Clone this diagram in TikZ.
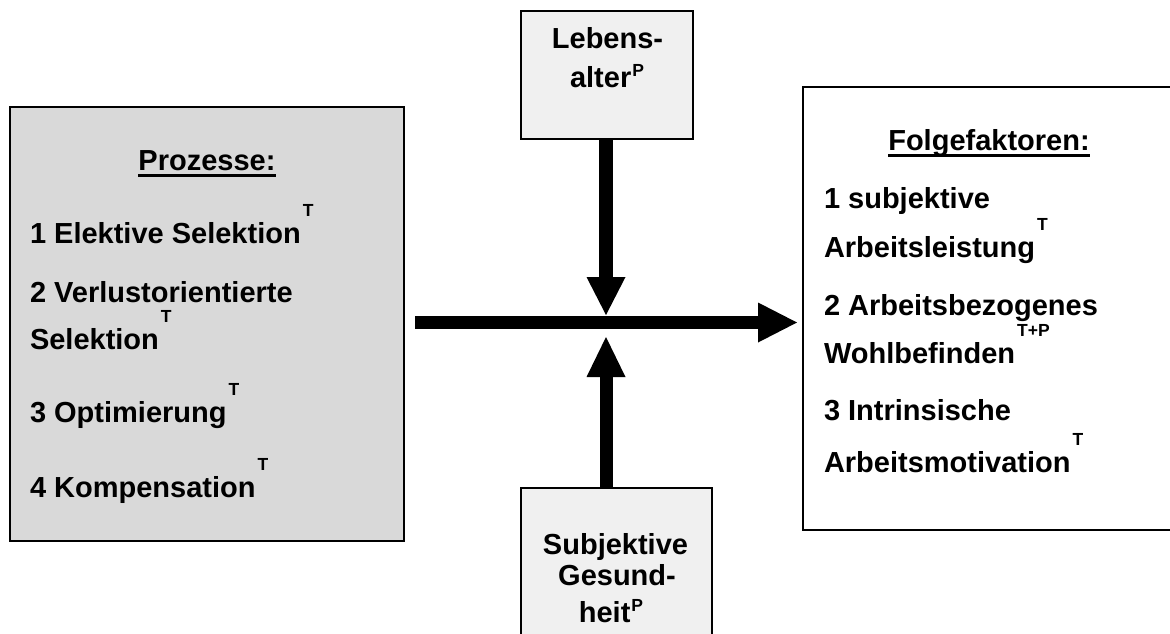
\documentclass[tikz,border=0pt]{standalone}
\usepackage{fontspec}
\setmainfont{Liberation Sans}
\usetikzlibrary{arrows.meta}
\definecolor{procgray}{HTML}{D9D9D9}
\definecolor{factgray}{HTML}{F0F0F0}
% raised index letters (T, P, T+P) after a term
\newcommand\supT[1]{\hspace{2pt}\raisebox{27pt}{\fontsize{17.5}{18}\selectfont #1}}
\newcommand\supP[1]{\hspace{1pt}\raisebox{11pt}{\fontsize{17.5}{18}\selectfont #1}}
% heading with a heavy underline
\newcommand\ulhead[1]{\setbox0\hbox{#1}\rlap{\rule[-6.5pt]{\wd0}{2.5pt}}\box0}
\begin{document}
\begin{tikzpicture}[x=1pt,y=-1pt,
  box/.style={draw=black, line width=1.6pt, anchor=north west, inner sep=0pt, outer sep=0pt},
  txt/.style={anchor=base west, inner sep=0pt, outer sep=0pt, font=\bfseries\fontsize{29}{34}\selectfont},
  ctxt/.style={anchor=base, inner sep=0pt, outer sep=0pt, font=\bfseries\fontsize{29}{34}\selectfont},
  flowarrow/.style={line width=13pt, -{Triangle[length=39pt,width=40pt,line width=0pt]}}]
\useasboundingbox (0,0) rectangle (1170,633);
\clip (0,0) rectangle (1170,633);

% boxes
\node[box, fill=procgray, minimum width=394pt, minimum height=434pt] (proz) at (10,107) {};
\node[box, fill=white, minimum width=372pt, minimum height=443pt] (folge) at (803,87) {};
\node[box, fill=factgray, minimum width=172pt, minimum height=128pt] (alter) at (521,11) {};
\node[box, fill=factgray, minimum width=191pt, minimum height=170pt] (gesund) at (521,488) {};

% processes
\node[ctxt] (prozH) at (207,170) {\ulhead{Prozesse:}};
\node[txt] (p1) at (30,243) {1 Elektive Selektion\supT{T}};
\node[txt] (p2a) at (30,302) {2 Verlustorientierte};
\node[txt] (p2b) at (30,349) {Selektion\supT{T}};
\node[txt] (p3) at (30,422) {3 Optimierung\supT{T}};
\node[txt] (p4) at (30,497) {4 Kompensation\supT{T}};

% outcomes
\node[ctxt] (folgeH) at (989,150) {\ulhead{Folgefaktoren:}};
\node[txt] (f1a) at (824,208) {1 subjektive};
\node[txt] (f1b) at (824,257) {Arbeitsleistung\supT{T}};
\node[txt] (f2a) at (824,315) {2 Arbeitsbezogenes};
\node[txt] (f2b) at (824,363) {Wohlbefinden\supT{T+P}};
\node[txt] (f3a) at (824,420) {3 Intrinsische};
\node[txt] (f3b) at (824,472) {Arbeitsmotivation\supT{T}};

% moderators
\node[ctxt] (a1) at (607.5,48) {Lebens-};
\node[ctxt] (a2) at (607,87) {alter\supP{P}};
\node[ctxt] (g1) at (615.5,554) {Subjektive};
\node[ctxt] (g2) at (617,585) {Gesund-};
\node[ctxt] (g3) at (611,622) {heit\supP{P}};

% arrows
\coordinate (hstart) at (415,322.5);
\coordinate (cross) at (606,322.5);
\draw[flowarrow, shorten >=6pt] (hstart) -- (hstart -| folge.west);
\draw[line width=14pt, -{Triangle[length=38pt,width=39pt,line width=0pt]}, shorten >=7.5pt]
  (alter.south -| cross) -- (cross);
\draw[line width=13pt, -{Triangle[length=40pt,width=39pt,line width=0pt]}, shorten >=14.5pt]
  (gesund.north -| cross) -- (cross);
\end{tikzpicture}
\end{document}
